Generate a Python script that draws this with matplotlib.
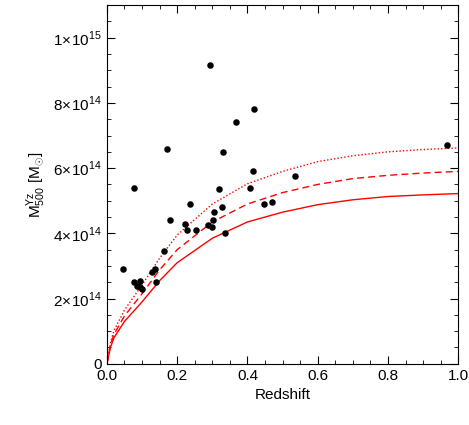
import numpy as np
import matplotlib
matplotlib.use("Agg")
import matplotlib.pyplot as plt
import matplotlib.ticker as ticker

plt.rcParams['font.family'] = ['Liberation Sans', 'DejaVu Sans']
plt.rcParams['mathtext.fontset'] = 'custom'
plt.rcParams['mathtext.rm'] = 'Liberation Sans'

# cluster sample (redshift, mass in 1e14 Msun)
z_obs = [0.046, 0.077, 0.085, 0.094, 0.094, 0.10, 0.077, 0.128, 0.137, 0.14, 0.162, 0.171,
         0.18, 0.222, 0.228, 0.236, 0.253, 0.288, 0.293, 0.299, 0.302, 0.305, 0.319,
         0.328, 0.33, 0.336, 0.368, 0.407, 0.419, 0.416, 0.447, 0.47, 0.536, 0.969]
m_obs = [2.9, 2.5, 2.4, 2.55, 2.35, 2.3, 5.4, 2.8, 2.9, 2.5, 3.45, 6.6,
         4.4, 4.3, 4.1, 4.9, 4.1, 4.25, 9.15, 4.2, 4.4, 4.65, 5.35,
         4.8, 6.5, 4.0, 7.4, 5.4, 7.8, 5.9, 4.9, 4.95, 5.75, 6.7]

# limit curves (1e14 Msun)
z_curve = [0.0, 0.01, 0.02, 0.05, 0.1, 0.15, 0.2, 0.3, 0.4, 0.5, 0.6, 0.7, 0.8, 0.9, 1.0]
m_solid = [0.0, 0.5, 0.8, 1.3, 1.9, 2.55, 3.1, 3.85, 4.35, 4.65, 4.88, 5.03, 5.13, 5.18, 5.22]
m_dash = [0.0, 0.57, 0.9, 1.47, 2.15, 2.88, 3.5, 4.35, 4.9, 5.25, 5.5, 5.68, 5.78, 5.85, 5.9]
m_dot = [0.0, 0.64, 1.02, 1.65, 2.42, 3.24, 3.95, 4.9, 5.52, 5.9, 6.2, 6.38, 6.5, 6.57, 6.62]

fig = plt.figure(figsize=(4.69, 4.25), dpi=100)
ax = fig.add_axes([0.228, 0.144, 0.749, 0.844])

ax.plot(z_curve, np.array(m_solid) * 1e14, color='red', lw=1.0)
ax.plot(z_curve, np.array(m_dash) * 1e14, color='red', lw=1.0, ls=(0, (5, 3)))
ax.plot(z_curve, np.array(m_dot) * 1e14, color='red', lw=1.0, ls=(0, (1, 1.5)))
ax.scatter(z_obs, np.array(m_obs) * 1e14, s=22, color='black', zorder=5, linewidths=0)

ax.set_xlim(0, 1.0)
ax.set_ylim(0, 1.1e15)
ax.xaxis.set_major_locator(ticker.MultipleLocator(0.2))
ax.xaxis.set_minor_locator(ticker.MultipleLocator(0.05))
ax.yaxis.set_major_locator(ticker.MultipleLocator(2e14))
ax.yaxis.set_minor_locator(ticker.MultipleLocator(0.5e14))
ax.xaxis.set_major_formatter(ticker.FormatStrFormatter('%.1f'))

def yfmt(v, pos):
    if v <= 1e10:
        return '0' if abs(v) < 1e10 else ''
    e = int(np.floor(np.log10(v) + 1e-9))
    m = v / 10**e
    return r'$%d\!\times\!10^{%d}$' % (round(m), e)

ax.yaxis.set_major_formatter(ticker.FuncFormatter(yfmt))
ax.tick_params(which='both', direction='in', top=True, right=True, labelsize=11)
ax.tick_params(which='major', length=6)
ax.tick_params(which='minor', length=3)
ax.set_xlabel('Redshift', fontsize=11)
ax.set_ylabel(r'M$_{500}^{\rm Yz}$ [M$_{\odot}$]', fontsize=11)

fig.savefig('out.png', dpi=100)
